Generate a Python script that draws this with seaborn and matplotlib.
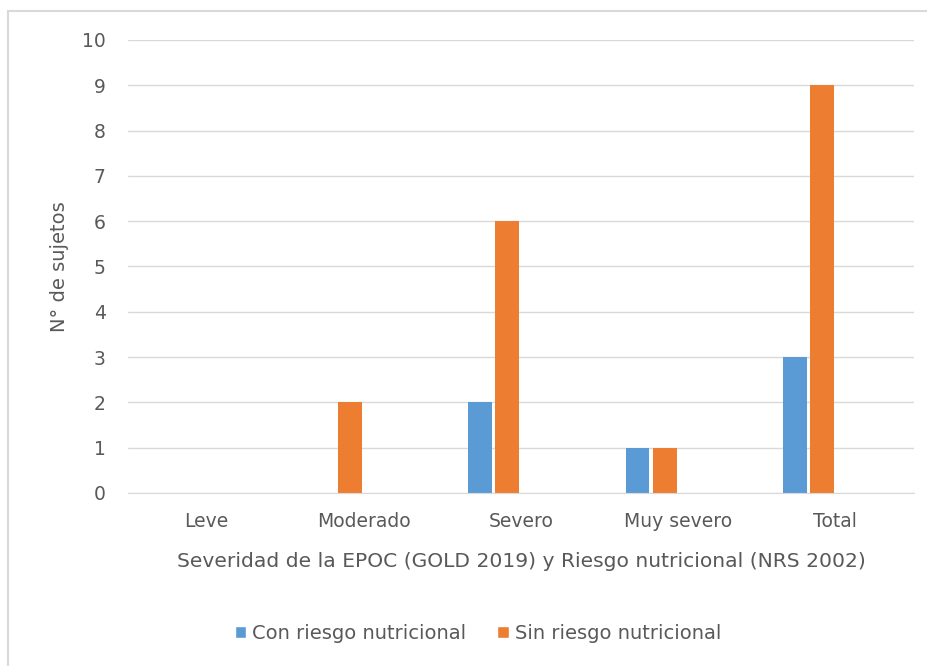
import matplotlib
matplotlib.use("Agg")
import matplotlib.pyplot as plt
import seaborn as sns
import pandas as pd
from matplotlib.patches import Patch
from matplotlib.lines import Line2D

# datos
categorias = ["Leve", "Moderado", "Severo", "Muy severo", "Total"]
con_riesgo = [0, 0, 2, 1, 3]
sin_riesgo = [0, 2, 6, 1, 9]
# series vacías (Excel reserva su espacio en el grupo)
vacia_3 = [0, 0, 0, 0, 0]
vacia_4 = [0, 0, 0, 0, 0]

series = ["Con riesgo nutricional", "Sin riesgo nutricional", "s3", "s4"]
colores = ["#5B9BD5", "#ED7D31", "#A5A5A5", "#FFC000"]

filas = []
for nombre, valores in zip(series, [con_riesgo, sin_riesgo, vacia_3, vacia_4]):
    for cat, v in zip(categorias, valores):
        filas.append({"cat": cat, "serie": nombre, "n": v})
df = pd.DataFrame(filas)

sns.set_style("white")
plt.rcParams["font.family"] = ["DejaVu Sans"]
gris = "#595959"
fs = 13.5

fig = plt.figure(figsize=(9.28, 6.66), dpi=100)
ax = fig.add_axes([0.1379, 0.2598, 0.847, 0.6802])

sns.barplot(data=df, x="cat", y="n", hue="serie", hue_order=series,
            order=categorias, palette=colores, width=0.69, gap=0.12,
            saturation=1, errorbar=None, legend=False, ax=ax, linewidth=0)

ax.set_ylim(0, 10)
ax.set_yticks(range(0, 11))
ax.set_xlim(-0.5, 4.5)
ax.yaxis.grid(True, color="#D9D9D9", linewidth=1)
ax.set_axisbelow(True)
for s in ["top", "right", "left"]:
    ax.spines[s].set_visible(False)
ax.spines["bottom"].set_color("#D9D9D9")
ax.tick_params(axis="both", length=0, colors=gris, labelsize=fs)
ax.tick_params(axis="x", pad=14)
ax.tick_params(axis="y", pad=16)

ax.set_xlabel("Severidad de la EPOC (GOLD 2019) y Riesgo nutricional (NRS 2002)",
              color=gris, fontsize=14.6, labelpad=15)
ax.set_ylabel("N° de sujetos", color=gris, fontsize=14, labelpad=9)

handles = [Patch(facecolor=colores[0], label=series[0]),
           Patch(facecolor=colores[1], label=series[1])]
fig.legend(handles=handles, loc="center", bbox_to_anchor=(0.515, 0.049), ncol=2,
           frameon=False, fontsize=14, labelcolor=gris, handlelength=0.6,
           handleheight=0.6, handletextpad=0.3, columnspacing=1.6)

# borde del área del gráfico
fig.add_artist(Line2D([8 / 928, 1], [1 - 11 / 666, 1 - 11 / 666], color="#D9D9D9", lw=1.5))
fig.add_artist(Line2D([8 / 928, 8 / 928], [0, 1 - 11 / 666], color="#D9D9D9", lw=1.5))

fig.savefig("out.png", dpi=100)
